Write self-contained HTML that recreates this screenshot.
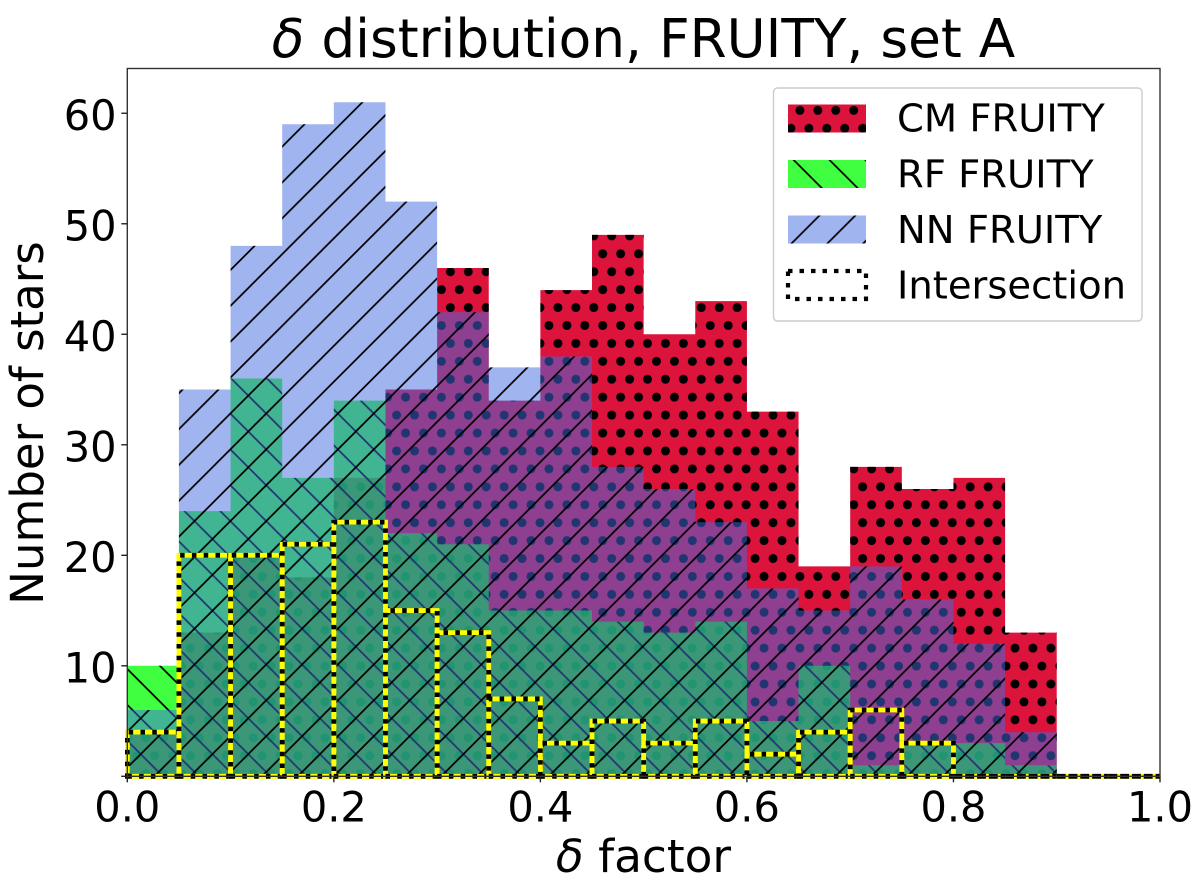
<!DOCTYPE html>
<html lang="en">
<head>
<meta charset="utf-8">
<title>δ distribution, FRUITY, set A</title>
<style>
html,body{margin:0;padding:0;background:#fff;width:1200px;height:885px;overflow:hidden}
svg{display:block}
text{font-family:"DejaVu Sans","Liberation Sans",sans-serif;fill:#000}
</style>
</head>
<body>
<svg id="chart" xmlns="http://www.w3.org/2000/svg" width="1200" height="885" viewBox="0 0 1200 885">
  <defs>
    <pattern id="dots" patternUnits="userSpaceOnUse" x="611.7" y="271.7" width="17.925" height="35.85">
      <circle cx="0" cy="0" r="4.5" fill="#000"/><circle cx="17.925" cy="0" r="4.5" fill="#000"/>
      <circle cx="0" cy="35.85" r="4.5" fill="#000"/><circle cx="17.925" cy="35.85" r="4.5" fill="#000"/>
      <circle cx="8.9625" cy="17.925" r="4.5" fill="#000"/>
    </pattern>
    <pattern id="back" patternUnits="userSpaceOnUse" x="0" y="541.7" width="35.85" height="35.85">
      <path d="M-1,-1L36.85,36.85M-18,17.9L18,53.9M17.9,-18L53.9,18" stroke="#000" stroke-width="1.7" fill="none"/>
    </pattern>
    <pattern id="fwd" patternUnits="userSpaceOnUse" x="0" y="500.5" width="35.85" height="35.85">
      <path d="M-1,1L1,-1M-1,36.85L36.85,-1M34.85,36.85L36.85,34.85" stroke="#000" stroke-width="1.7" fill="none"/>
    </pattern>
    <pattern id="backLegend" patternUnits="userSpaceOnUse" x="794" y="160.3" width="35.85" height="35.85">
      <path d="M-1,-1L36.85,36.85M-18,17.9L18,53.9M17.9,-18L53.9,18" stroke="#000" stroke-width="1.7" fill="none"/>
    </pattern>
    <pattern id="fwdLegend" patternUnits="userSpaceOnUse" x="819.3" y="215.7" width="35.85" height="35.85">
      <path d="M-1,1L1,-1M-1,36.85L36.85,-1M34.85,36.85L36.85,34.85" stroke="#000" stroke-width="1.7" fill="none"/>
    </pattern>
    <clipPath id="plotClip"><rect x="125" y="68.5" width="1037" height="712"/></clipPath>
  </defs>

  <g id="bars" clip-path="url(#plotClip)"></g>
  <g id="xticks"></g>
  <g id="yticks"></g>
  <rect id="frame" x="127.3" y="68.5" width="1032.7" height="707.8" fill="none" stroke="#333" stroke-width="1.4"/>

  <text x="643.5" y="57" font-size="53.3" text-anchor="middle"><tspan font-style="italic">δ</tspan> distribution, FRUITY, set A</text>
  <text x="643.5" y="872" font-size="45.4" text-anchor="middle"><tspan font-style="italic">δ</tspan> factor</text>
  <text transform="translate(43,423) rotate(-90)" font-size="45" text-anchor="middle">Number of stars</text>

  <g>
    <rect x="773.5" y="88" width="368.5" height="233" rx="4" fill="#fff" fill-opacity="0.8" stroke="#ccc" stroke-width="1.4"/>
    <g>
      <rect x="788" y="104.5" width="78" height="28" fill="#dc143c"/>
      <rect x="788" y="104.5" width="78" height="28" fill="url(#dots)"/>
      <text x="897" y="131.5" font-size="38.5">CM FRUITY</text>
    </g>
    <g>
      <rect x="788" y="160" width="78" height="28" fill="#00ff00" fill-opacity="0.75"/>
      <rect x="788" y="160" width="78" height="28" fill="url(#backLegend)"/>
      <text x="897" y="187.5" font-size="38.5">RF FRUITY</text>
    </g>
    <g>
      <rect x="788" y="215.5" width="78" height="28" fill="#4169e1" fill-opacity="0.5"/>
      <rect x="788" y="215.5" width="78" height="28" fill="url(#fwdLegend)"/>
      <text x="897" y="243" font-size="38.5">NN FRUITY</text>
    </g>
    <g>
      <rect x="788" y="271" width="78" height="28" fill="none" stroke="#000" stroke-width="4.2" stroke-dasharray="4.5 7"/>
      <text x="897" y="298.5" font-size="38.5">Intersection</text>
    </g>
  </g>
</svg>
<script>
const binEdges = [0,0.05,0.1,0.15,0.2,0.25,0.3,0.35,0.4,0.45,0.5,0.55,0.6,0.65,0.7,0.75,0.8,0.85,0.9,0.95,1];
const cmCounts = [4,13,20,18,27,35,46,34,44,49,40,43,33,19,28,26,27,13,0,0];
const rfCounts = [10,24,36,27,34,22,21,15,15,14,13,14,5,10,1,3,3,1,0,0];
const nnCounts = [6,35,48,59,61,52,42,37,38,28,26,23,17,15,19,16,12,4,0,0];
const intersectionCounts = [4,20,20,21,23,15,13,7,3,5,3,5,2,4,6,3,0,0,0,0];
const xTickValues = [0,0.2,0.4,0.6,0.8,1];
const xTickLabels = ["0.0","0.2","0.4","0.6","0.8","1.0"];
const yTickValues = [0,10,20,30,40,50,60];
const yTickLabels = ["","10","20","30","40","50","60"];

const NS = "http://www.w3.org/2000/svg";
const xMin = 0, xMax = 1, yMin = 0, yMax = 64.05;
const xLeft = 127.3, xRight = 1160, yBottom = 776.3, yTop = 68.5;
function xScale(v){ return xLeft + (v - xMin) / (xMax - xMin) * (xRight - xLeft); }
function yScale(v){ return yBottom - (v - yMin) / (yMax - yMin) * (yBottom - yTop); }

function stepPath(counts){
  let d = "M" + xScale(binEdges[0]) + "," + yScale(0);
  counts.forEach(function(c, i){
    if (c <= 0) { d += "L" + xScale(binEdges[i]) + "," + yScale(0) + "L" + xScale(binEdges[i+1]) + "," + yScale(0); return; }
    d += "L" + xScale(binEdges[i]) + "," + yScale(c) + "L" + xScale(binEdges[i+1]) + "," + yScale(c);
  });
  d += "L" + xScale(binEdges[binEdges.length-1]) + "," + yScale(0) + "Z";
  return d;
}

const barsGroup = document.getElementById("bars");
function addLayer(counts, fill, opacity, hatch, name){
  const body = document.createElementNS(NS, "path");
  body.setAttribute("d", stepPath(counts));
  body.setAttribute("fill", fill);
  body.setAttribute("fill-opacity", opacity);
  
  
  barsGroup.appendChild(body);
  const tex = document.createElementNS(NS, "path");
  tex.setAttribute("d", stepPath(counts));
  tex.setAttribute("fill", hatch);
  
  
  barsGroup.appendChild(tex);
}
addLayer(cmCounts, "#dc143c", 1, "url(#dots)", "cm-fruity-histogram");
addLayer(rfCounts, "#00ff00", 0.75, "url(#back)", "rf-fruity-histogram");
addLayer(nnCounts, "#4169e1", 0.5, "url(#fwd)", "nn-fruity-histogram");

intersectionCounts.forEach(function(c, i){
  const x0 = xScale(binEdges[i]), x1 = xScale(binEdges[i+1]), yT = yScale(c), yB = yScale(0);
  const d = "M" + x0 + "," + yB + "L" + x1 + "," + yB + "L" + x1 + "," + yT + "L" + x0 + "," + yT + "Z";
  const under = document.createElementNS(NS, "path");
  under.setAttribute("d", d);
  under.setAttribute("fill", "none");
  under.setAttribute("stroke", "#ffff00");
  under.setAttribute("stroke-width", "4.8");
  
  
  barsGroup.appendChild(under);
  const over = document.createElementNS(NS, "path");
  over.setAttribute("d", d);
  over.setAttribute("fill", "none");
  over.setAttribute("stroke", "#000");
  over.setAttribute("stroke-width", "4.8");
  over.setAttribute("stroke-dasharray", "4.5 7.3");
  
  
  barsGroup.appendChild(over);
});

const xTickGroup = document.getElementById("xticks");
xTickValues.forEach(function(v, i){
  const t = document.createElementNS(NS, "line");
  t.setAttribute("x1", xScale(v)); t.setAttribute("x2", xScale(v));
  t.setAttribute("y1", yBottom); t.setAttribute("y2", yBottom + 6);
  t.setAttribute("stroke", "#222"); t.setAttribute("stroke-width", "1.4");
  
  
  xTickGroup.appendChild(t);
  const l = document.createElementNS(NS, "text");
  l.setAttribute("x", xScale(v)); l.setAttribute("y", 821.5);
  l.setAttribute("font-size", "41.5"); l.setAttribute("text-anchor", "middle");
  l.textContent = xTickLabels[i];
  
  
  xTickGroup.appendChild(l);
});

const yTickGroup = document.getElementById("yticks");
yTickValues.forEach(function(v, i){
  const t = document.createElementNS(NS, "line");
  t.setAttribute("x1", xLeft - 6); t.setAttribute("x2", xLeft);
  t.setAttribute("y1", yScale(v)); t.setAttribute("y2", yScale(v));
  t.setAttribute("stroke", "#222"); t.setAttribute("stroke-width", "1.4");
  
  
  yTickGroup.appendChild(t);
  const l = document.createElementNS(NS, "text");
  l.setAttribute("x", 116.5); l.setAttribute("y", yScale(v) + 16.5);
  l.setAttribute("font-size", "41.5"); l.setAttribute("text-anchor", "end");
  l.textContent = yTickLabels[i];
  
  
  yTickGroup.appendChild(l);
});
</script>
</body>
</html>
